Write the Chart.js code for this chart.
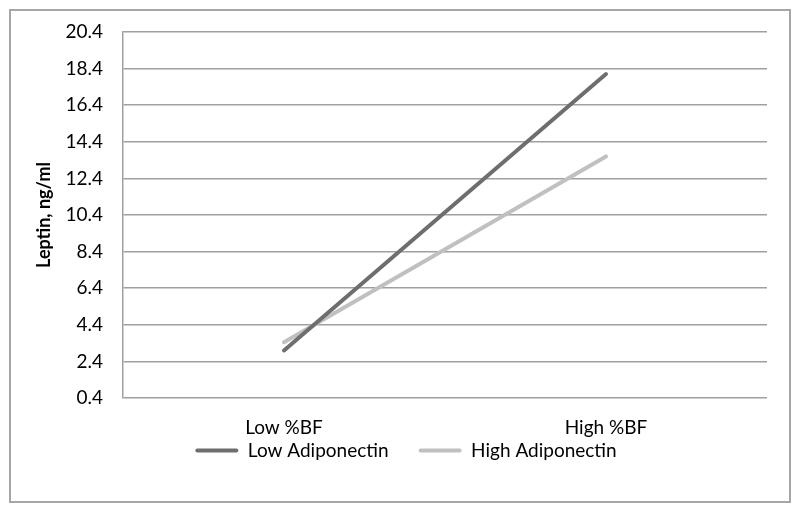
<!DOCTYPE html>
<html>
<head>
<meta charset="utf-8">
<script src="https://cdn.jsdelivr.net/npm/chart.js@4/dist/chart.umd.min.js"></script>
<style>
  body { margin: 0; background: #fff; }
  #box { position: absolute; left: 9px; top: 9px; width: 782px; height: 494px;
         box-sizing: border-box; border: 2px solid #a6a6a6; background: #fff; }
  #box canvas { display: block; }
</style>
</head>
<body>
<div id="box"><canvas id="leptinChart" width="778" height="490"></canvas></div>
<script>
const categories = ["Low %BF", "High %BF"];
const lowAdiponectin = [3.0, 18.1];
const highAdiponectin = [3.45, 13.6];
const yTicks = [0.4, 2.4, 4.4, 6.4, 8.4, 10.4, 12.4, 14.4, 16.4, 18.4, 20.4];

const font = "Lato";
const gridGray = "#a0a0a0";

// legend sits tight under the category labels, so pull it up a bit
const legendLift = {
    id: "legendLift",
    afterLayout(chart) {
        const lg = chart.legend;
        lg.top -= 30;
        lg.bottom -= 30;
        lg.left += 8;
        lg.right += 8;
    }
};

const ctx = document.getElementById("leptinChart").getContext("2d");

// Leptin by body-fat group
window.leptinChart = new Chart(ctx, {
    type: "line",
    data: {
        labels: categories,
        datasets: [{
            label: "Low Adiponectin",
            data: lowAdiponectin,
            borderColor: "#6e6e6e",
            backgroundColor: "#6e6e6e",
            borderWidth: 4,
            borderCapStyle: "round",
            pointRadius: 0,
            tension: 0
        }, {
            label: "High Adiponectin",
            data: highAdiponectin,
            borderColor: "#c0c0c0",
            backgroundColor: "#c0c0c0",
            borderWidth: 4,
            borderCapStyle: "round",
            pointRadius: 0,
            tension: 0
        }]
    },
    plugins: [legendLift],
    options: {
        responsive: false,
        animation: false,
        layout: { padding: { left: 18, right: 22, top: 21, bottom: 1 } },
        plugins: {
            tooltip: { enabled: false },
            legend: {
                position: "bottom",
                labels: {
                    color: "#000",
                    font: { family: font, size: 19 },
                    boxWidth: 43,
                    boxHeight: 4,
                    useBorderRadius: true,
                    borderRadius: 2,
                    padding: 30,
                    generateLabels: chart =>
                        Chart.defaults.plugins.legend.labels.generateLabels(chart)
                            .map(item => ({ ...item, lineWidth: 0 }))
                }
            }
        },
        scales: {
            x: {
                offset: true,
                grid: { display: false, drawTicks: false },
                border: { display: false },
                ticks: { color: "#000", font: { family: font, size: 19 }, padding: 18 },
                afterFit: scale => { scale.height = 43; }
            },
            y: {
                min: 0.4,
                max: 20.4,
                afterBuildTicks: scale => { scale.ticks = yTicks.map(v => ({ value: v })); },
                afterFit: scale => {
                    scale.width = 94;
                    scale.paddingTop = 0;
                    scale.paddingBottom = 0;
                },
                grid: { color: gridGray, lineWidth: 1.5, drawTicks: false },
                border: { color: gridGray, width: 1.5 },
                ticks: {
                    color: "#000",
                    font: { family: font, size: 19 },
                    padding: 20,
                    callback: v => Number(v).toFixed(1)
                },
                title: {
                    display: true,
                    text: "Leptin, ng/ml",
                    color: "#000",
                    font: { family: font, size: 18, weight: "bold" }
                }
            }
        }
    }
});
</script>
</body>
</html>
